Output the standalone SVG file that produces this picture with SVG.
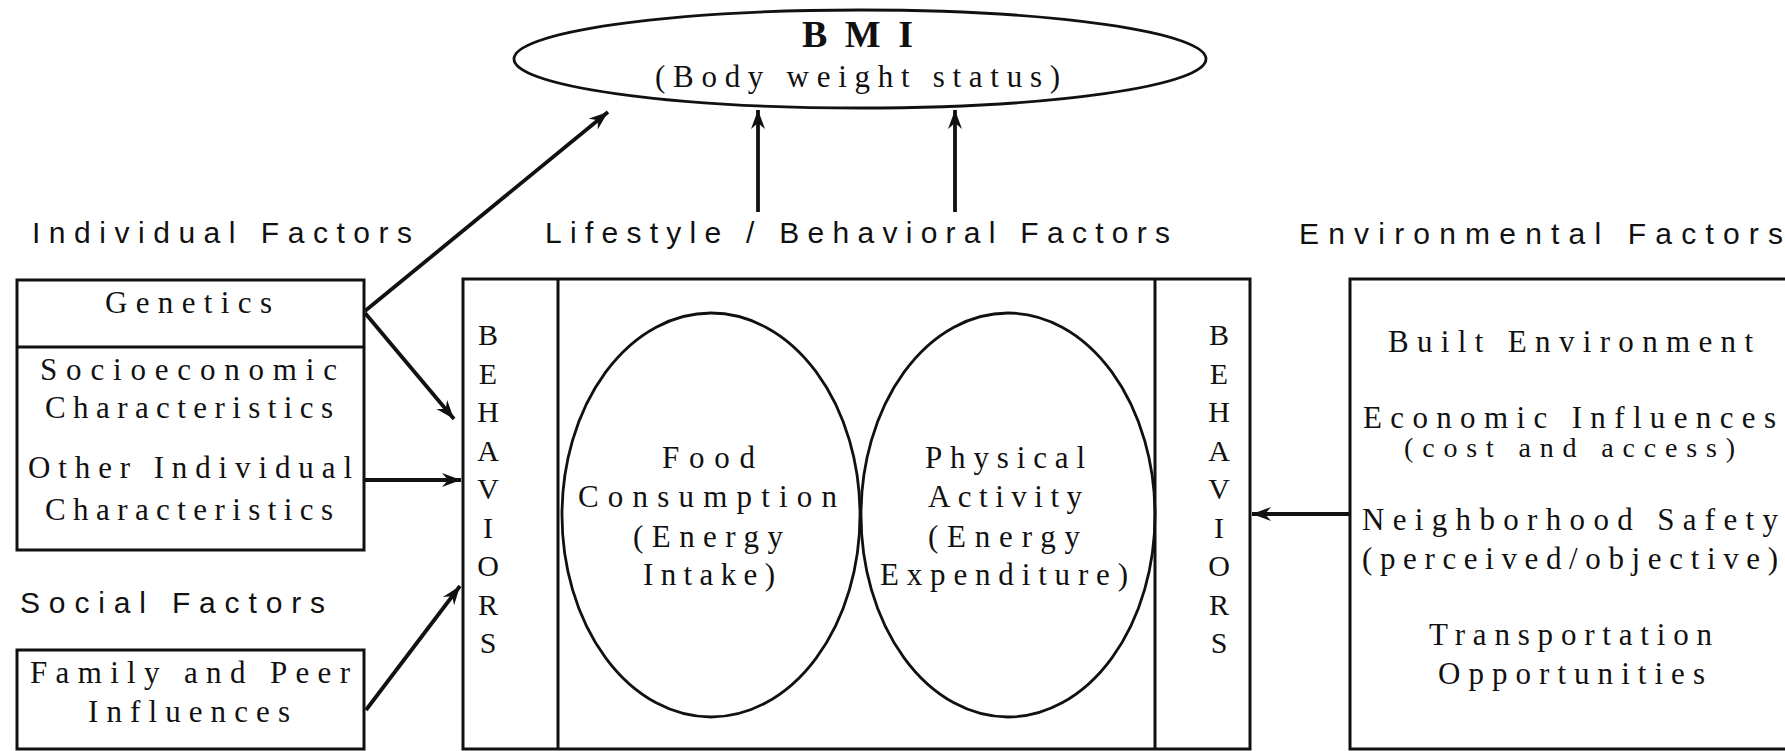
<svg xmlns="http://www.w3.org/2000/svg" width="1785" height="751" viewBox="0 0 1785 751">
<style>
.bg{fill:#fff}
.box{fill:none;stroke:#111;stroke-width:3}
.ell{fill:none;stroke:#111;stroke-width:2.8}
.ser{font-family:"Liberation Serif","Times New Roman",serif;font-size:31px;fill:#111}
.big{font-size:38px;font-weight:bold}
.sm{font-size:28px}
.san{font-family:"Liberation Sans",Arial,sans-serif;font-size:30px;fill:#111}
.beh{font-family:"Liberation Serif","Times New Roman",serif;font-size:30px;fill:#111;text-anchor:middle}
.arr{fill:none;stroke:#111;stroke-width:3.8;marker-end:url(#ah)}
</style>
<defs>
<marker id="ah" markerUnits="userSpaceOnUse" markerWidth="20" markerHeight="16" refX="19" refY="8" orient="auto">
<path d="M0,1 L19,8 L0,15 L6,8 Z" fill="#111"/>
</marker>
</defs>
<rect class="bg" x="0" y="0" width="1785" height="751"/>

<g id="bmi">
<ellipse class="ell" cx="860" cy="59" rx="346" ry="49"/>
<text class="ser big" x="802" y="47" textLength="111" lengthAdjust="spacing">BMI</text>
<text class="ser" x="655" y="87" textLength="405" lengthAdjust="spacing">(Body weight status)</text>
</g>

<g id="labels">
<text class="san" x="32" y="243" textLength="380" lengthAdjust="spacing">Individual Factors</text>
<text class="san" x="545" y="243" textLength="625" lengthAdjust="spacing">Lifestyle / Behavioral Factors</text>
<text class="san" x="1299" y="244" textLength="484" lengthAdjust="spacing">Environmental Factors</text>
<text class="san" x="20" y="613" textLength="305" lengthAdjust="spacing">Social Factors</text>
</g>

<g id="individual">
<rect class="box" x="17" y="280" width="347" height="270"/>
<line class="box" x1="17" y1="347" x2="364" y2="347"/>
<text class="ser" x="105" y="313" textLength="167" lengthAdjust="spacing">Genetics</text>
<text class="ser" x="40" y="380" textLength="297" lengthAdjust="spacing">Socioeconomic</text>
<text class="ser" x="45" y="418" textLength="288" lengthAdjust="spacing">Characteristics</text>
<text class="ser" x="28" y="478" textLength="324" lengthAdjust="spacing">Other Individual</text>
<text class="ser" x="45" y="520" textLength="288" lengthAdjust="spacing">Characteristics</text>
</g>

<g id="social">
<rect class="box" x="17" y="650" width="347" height="99"/>
<text class="ser" x="30" y="683" textLength="320" lengthAdjust="spacing">Family and Peer</text>
<text class="ser" x="88" y="722" textLength="202" lengthAdjust="spacing">Influences</text>
</g>

<g id="lifestyle">
<rect class="box" x="463" y="279" width="787" height="470"/>
<line class="box" x1="558" y1="279" x2="558" y2="749"/>
<line class="box" x1="1155" y1="279" x2="1155" y2="749"/>
</g>

<g id="behaviors-left">
<text class="beh" x="488" y="345">B</text>
<text class="beh" x="488" y="383.5">E</text>
<text class="beh" x="488" y="422">H</text>
<text class="beh" x="488" y="460.5">A</text>
<text class="beh" x="488" y="499">V</text>
<text class="beh" x="488" y="537.5">I</text>
<text class="beh" x="488" y="576">O</text>
<text class="beh" x="488" y="614.5">R</text>
<text class="beh" x="488" y="653">S</text>
</g>

<g id="behaviors-right">
<text class="beh" x="1219" y="345">B</text>
<text class="beh" x="1219" y="383.5">E</text>
<text class="beh" x="1219" y="422">H</text>
<text class="beh" x="1219" y="460.5">A</text>
<text class="beh" x="1219" y="499">V</text>
<text class="beh" x="1219" y="537.5">I</text>
<text class="beh" x="1219" y="576">O</text>
<text class="beh" x="1219" y="614.5">R</text>
<text class="beh" x="1219" y="653">S</text>
</g>

<g id="food">
<ellipse class="ell" cx="711" cy="515" rx="149" ry="202"/>
<text class="ser" x="662" y="468" textLength="93" lengthAdjust="spacing">Food</text>
<text class="ser" x="578" y="507" textLength="259" lengthAdjust="spacing">Consumption</text>
<text class="ser" x="633" y="547" textLength="150" lengthAdjust="spacing">(Energy</text>
<text class="ser" x="643" y="585" textLength="132" lengthAdjust="spacing">Intake)</text>
</g>

<g id="physical">
<ellipse class="ell" cx="1008" cy="515" rx="147" ry="202"/>
<text class="ser" x="925" y="468" textLength="160" lengthAdjust="spacing">Physical</text>
<text class="ser" x="928" y="507" textLength="154" lengthAdjust="spacing">Activity</text>
<text class="ser" x="928" y="547" textLength="152" lengthAdjust="spacing">(Energy</text>
<text class="ser" x="880" y="585" textLength="248" lengthAdjust="spacing">Expenditure)</text>
</g>

<g id="environmental">
<rect class="box" x="1350" y="279" width="460" height="470"/>
<text class="ser" x="1388" y="352" textLength="365" lengthAdjust="spacing">Built Environment</text>
<text class="ser" x="1363" y="428" textLength="413" lengthAdjust="spacing">Economic Influences</text>
<text class="ser sm" x="1404" y="457" textLength="331" lengthAdjust="spacing">(cost and access)</text>
<text class="ser" x="1362" y="530" textLength="416" lengthAdjust="spacing">Neighborhood Safety</text>
<text class="ser" x="1362" y="569" textLength="416" lengthAdjust="spacing">(perceived/objective)</text>
<text class="ser" x="1429" y="645" textLength="283" lengthAdjust="spacing">Transportation</text>
<text class="ser" x="1438" y="684" textLength="267" lengthAdjust="spacing">Opportunities</text>
</g>

<g id="connectors">
<line class="arr" x1="365" y1="311" x2="608" y2="112"/>
<line class="arr" x1="365" y1="313" x2="454" y2="419"/>
<line class="arr" x1="365" y1="480" x2="461" y2="480"/>
<line class="arr" x1="366" y1="710" x2="460" y2="586"/>
<line class="arr" x1="758" y1="212" x2="758" y2="110"/>
<line class="arr" x1="955" y1="212" x2="955" y2="110"/>
<line class="arr" x1="1350" y1="514" x2="1252" y2="514"/>
</g>
</svg>
